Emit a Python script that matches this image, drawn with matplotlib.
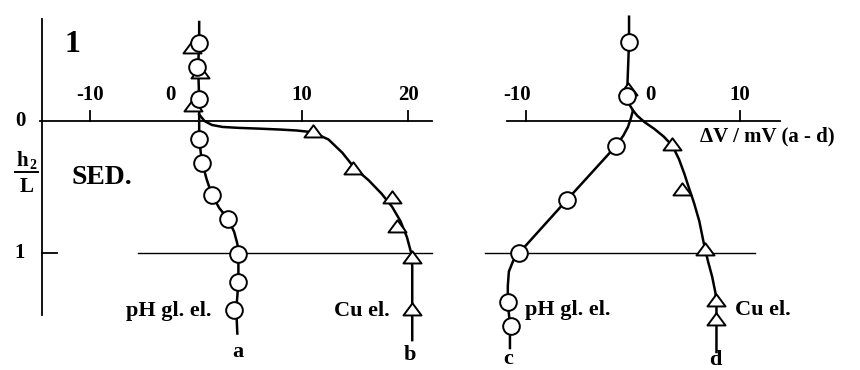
import matplotlib
matplotlib.use("Agg")
import matplotlib.pyplot as plt
from matplotlib.path import Path

plt.rcParams['font.family'] = ['Liberation Serif', 'DejaVu Serif']
plt.rcParams['font.weight'] = 'bold'

# ---- data (x in mV, h = h2/L, 0 = sediment top) ----
# panel 1: pH glass electrode (a) and Cu electrode (b)
a_x = [0.3, 0.1, 0.3, 0.3, 0.6, 1.5, 3.0, 4.0, 4.0, 3.6]
a_h = [-0.59, -0.41, -0.17, 0.14, 0.32, 0.56, 0.74, 1.01, 1.22, 1.43]
a_line_x = [0.3, 0.3, 0.2, 0.3, 0.3, 0.3, 0.45, 0.6, 1.0, 1.5, 2.2, 3.0, 3.6, 3.9, 4.0, 4.0, 3.8, 3.9]
a_line_h = [-0.75, -0.59, -0.41, -0.17, 0.0, 0.14, 0.24, 0.32, 0.44, 0.56, 0.66, 0.74, 0.84, 0.93, 1.01, 1.22, 1.43, 1.61]

b_x = [-0.4, 0.4, -0.3, 11.0, 14.8, 18.5, 19.0, 20.4, 20.4]
b_h = [-0.55, -0.36, -0.11, 0.08, 0.36, 0.58, 0.80, 1.04, 1.43]
b_line_x = [0.3, 0.8, 1.5, 2.5, 4.0, 6.0, 8.0, 9.5, 11.0, 12.5, 13.8, 15.0, 16.3,
            17.5, 18.5, 19.3, 19.9, 20.3, 20.4, 20.4]
b_line_h = [-0.05, 0.0, 0.03, 0.045, 0.052, 0.058, 0.065, 0.072, 0.085, 0.14, 0.24,
            0.36, 0.45, 0.55, 0.65, 0.76, 0.88, 1.0, 1.1, 1.66]

# panel 2: pH glass electrode (c) and Cu electrode (d)
c_x = [-0.37, -0.56, -1.6, -6.2, -10.65, -11.7, -11.4]
c_h = [-0.6, -0.19, 0.19, 0.6, 1.0, 1.37, 1.55]
c_line_x = [-0.37, -0.37, -0.56, -0.3, 0.0, -0.2, -0.47, -0.9, -1.6, -6.2, -10.65,
            -11.2, -11.6, -11.7, -11.7, -11.5, -11.5]
c_line_h = [-0.79, -0.6, -0.19, -0.12, -0.08, -0.02, 0.045, 0.11, 0.19, 0.6, 1.0,
            1.06, 1.14, 1.25, 1.37, 1.55, 1.72]

d_x = [-0.5, 3.6, 4.6, 6.7, 7.8, 7.8]
d_h = [-0.235, 0.18, 0.52, 0.98, 1.36, 1.51]
d_line_x = [0.0, 0.4, 1.1, 2.0, 2.9, 3.7, 4.3, 4.8, 5.2, 5.7, 6.2, 6.6, 7.0, 7.4,
            7.7, 7.8, 7.8]
d_line_h = [-0.08, -0.04, 0.01, 0.06, 0.12, 0.19, 0.29, 0.40, 0.50, 0.62, 0.76,
            0.92, 1.06, 1.18, 1.30, 1.40, 1.75]

ticks_1 = [-10, 10, 20]
ticks_2 = [-10, 10]

tri = Path([(0, 0.8), (-1, -0.55), (1, -0.55), (0, 0.8)],
           [Path.MOVETO, Path.LINETO, Path.LINETO, Path.CLOSEPOLY])

fig = plt.figure(figsize=(8.6, 3.7), dpi=100)
ax1 = fig.add_axes([0, 0, 450 / 860, 1])
ax2 = fig.add_axes([450 / 860, 0, 410 / 860, 1])
ax1.set_xlim(-196 / 10.6, (450 - 196) / 10.6)
ax2.set_xlim((450 - 633) / 10.7, (860 - 633) / 10.7)
for ax in (ax1, ax2):
    ax.set_ylim(249 / 132, -121 / 132)
    ax.axis('off')

k = 'black'
lw_ax = 1.3
lw_c = 1.8
mk_c = dict(marker='o', ms=12, mfc='white', mec=k, mew=1.4, ls='none', clip_on=False)
mk_t = dict(marker=tri, ms=13, mfc='white', mec=k, mew=1.4, ls='none', clip_on=False)
fs_tick = 15

# ---- panel 1 ----
ax1.plot([-14.53, -14.53], [-0.77, 1.47], color=k, lw=lw_ax)
ax1.plot([-14.53, -13.1], [1.0, 1.0], color=k, lw=lw_ax)
ax1.plot([-14.7, 22.3], [0, 0], color=k, lw=lw_ax)
ax1.plot([-5.47, 22.3], [1, 1], color=k, lw=1.0)
for t in ticks_1:
    ax1.plot([t, t], [0, -0.075], color=k, lw=lw_ax)
    ax1.text(t, -0.2, str(t), ha='center', va='center', fontsize=fs_tick)
ax1.text(-2.4, -0.2, '0', ha='center', va='center', fontsize=fs_tick)
ax1.text(-16.6, 0.0, '0', ha='center', va='center', fontsize=fs_tick)
ax1.text(-16.6, 1.0, '1', ha='center', va='center', fontsize=fs_tick)
ax1.text(-16.4, 0.30, 'h', ha='center', va='center', fontsize=15)
ax1.text(-15.4, 0.34, '2', ha='center', va='center', fontsize=10)
ax1.plot([-17.1, -14.9], [0.386, 0.386], color=k, lw=1.4)
ax1.text(-16.0, 0.50, 'L', ha='center', va='center', fontsize=15)
ax1.text(-11.7, -0.58, '1', ha='center', va='center', fontsize=23)
ax1.text(-11.7, 0.43, 'SED.', ha='left', va='center', fontsize=20)

ax1.plot(b_line_x, b_line_h, color=k, lw=lw_c, zorder=2)
ax1.plot(a_line_x, a_line_h, color=k, lw=lw_c, zorder=2)
ax1.plot(b_x, b_h, zorder=3, **mk_t)
ax1.plot(a_x, a_h, zorder=4, **mk_c)
ax1.text(1.5, 1.44, 'pH gl. el.', ha='right', va='center', fontsize=16)
ax1.text(18.3, 1.44, 'Cu el.', ha='right', va='center', fontsize=16)
ax1.text(3.9, 1.75, 'a', ha='center', va='center', fontsize=16)
ax1.text(20.2, 1.77, 'b', ha='center', va='center', fontsize=16)

# ---- panel 2 ----
ax2.plot([-11.78, 13.74], [0, 0], color=k, lw=lw_ax)
ax2.plot([-13.83, 11.4], [1, 1], color=k, lw=1.0)
for t in ticks_2:
    ax2.plot([t, t], [0, -0.075], color=k, lw=lw_ax)
ax2.text(-10.8, -0.2, '-10', ha='center', va='center', fontsize=fs_tick)
ax2.text(1.6, -0.2, '0', ha='center', va='center', fontsize=fs_tick)
ax2.text(10.0, -0.2, '10', ha='center', va='center', fontsize=fs_tick)
ax2.text(6.3, 0.12, '\u0394V / mV (a - d)', ha='left', va='center', fontsize=15)

ax2.plot(d_line_x, d_line_h, color=k, lw=lw_c, zorder=2)
ax2.plot(c_line_x, c_line_h, color=k, lw=lw_c, zorder=2)
ax2.plot(d_x, d_h, zorder=3, **mk_t)
ax2.plot(c_x, c_h, zorder=4, **mk_c)
ax2.text(-10.1, 1.43, 'pH gl. el.', ha='left', va='center', fontsize=16)
ax2.text(9.5, 1.43, 'Cu el.', ha='left', va='center', fontsize=16)
ax2.text(-11.7, 1.80, 'c', ha='center', va='center', fontsize=16)
ax2.text(7.7, 1.81, 'd', ha='center', va='center', fontsize=16)

fig.savefig('out.png', dpi=100)
